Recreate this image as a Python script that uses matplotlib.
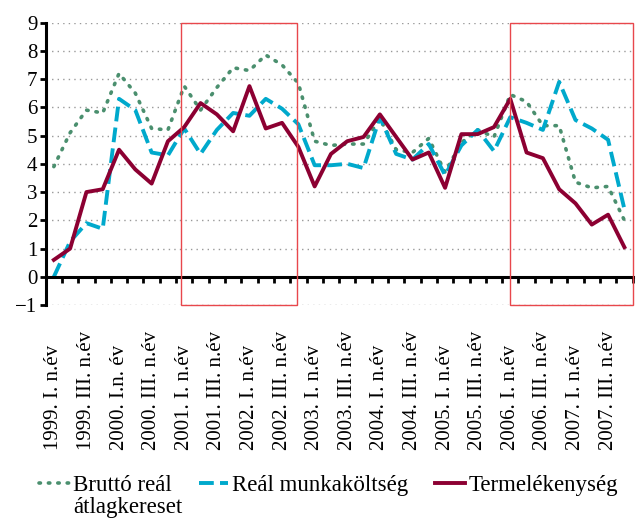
import numpy as np
import matplotlib
matplotlib.use('Agg')
import matplotlib.pyplot as plt
from matplotlib.patches import Rectangle

plt.rcParams['font.family'] = ['Liberation Serif', 'DejaVu Serif']

labels = ['1999. I. n.év', '1999. III. n.év', '2000. I.n. év', '2000. III. n.év',
          '2001. I. n.év', '2001. III. n.év', '2002. I. n.év', '2002. III. n.év',
          '2003. I. n.év', '2003. III. n.év', '2004. I. n.év', '2004. III. n.év',
          '2005. I. n.év', '2005. III. n.év', '2006. I. n.év', '2006. III. n.év',
          '2007. I. n.év', '2007. III. n.év']

brutto = [3.9, 5.1, 5.9, 5.8, 7.2, 6.5, 5.25, 5.2, 6.75, 5.9, 6.7, 7.4,
          7.3, 7.85, 7.5, 6.85, 4.8, 4.65, 4.7, 4.7, 5.6, 4.5, 4.4, 4.9,
          3.7, 4.75, 5.2, 4.95, 6.45, 6.2, 5.35, 5.35, 3.35, 3.15, 3.2, 2.0]
munkakoltseg = [0.0, 1.25, 1.9, 1.7, 6.3, 5.9, 4.4, 4.3, 5.25, 4.35, 5.2, 5.8,
                5.7, 6.3, 5.95, 5.4, 3.95, 3.95, 4.0, 3.85, 5.65, 4.35, 4.15, 4.7,
                3.6, 4.65, 5.2, 4.45, 5.65, 5.45, 5.2, 6.9, 5.55, 5.25, 4.85, 2.4]
termelekenyseg = [0.6, 1.0, 3.0, 3.1, 4.5, 3.8, 3.3, 4.8, 5.3, 6.15, 5.75, 5.15,
                  6.75, 5.25, 5.45, 4.6, 3.2, 4.35, 4.8, 4.95, 5.75, 4.95, 4.15, 4.4,
                  3.15, 5.05, 5.05, 5.3, 6.3, 4.4, 4.2, 3.1, 2.6, 1.85, 2.2, 1.05]

# highlighted periods (in category units)
boxes = [(7.83, 14.93), (27.98, 35.5)]

x = np.arange(len(brutto))

fig = plt.figure(figsize=(6.37, 5.18), dpi=100)
ax = fig.add_axes([0.0717, 0.411, 0.9213, 0.5455])

ax.plot(x, brutto, color='#4a8f6e', lw=2.6, linestyle=(0, (0.4, 2.2)),
        dash_capstyle='round', label='Bruttó reál')
ax.plot(x, munkakoltseg, color='#00a9cc', lw=2.8, linestyle=(0, (3.8, 1.6)),
        label='Reál munkaköltség')
ax.plot(x, termelekenyseg, color='#8c0032', lw=2.8, label='Termelékenység')

for x0, x1 in boxes:
    ax.add_patch(Rectangle((x0, -1), x1 - x0, 10, fill=False,
                           edgecolor='#e8474c', lw=1.0, clip_on=False, zorder=5))

ax.set_xlim(-0.5, 35.5)
ax.set_ylim(-1, 9)
ax.set_yticks(range(-1, 10))
ax.yaxis.grid(True, color='#999999', linestyle=(0, (1, 3)), lw=1.0)
ax.tick_params(axis='y', labelsize=15, length=4, width=2, pad=2)

for s in ['top', 'right']:
    ax.spines[s].set_visible(False)
ax.spines['left'].set_linewidth(2.2)
ax.spines['bottom'].set_position(('data', 0))
ax.spines['bottom'].set_linewidth(2.2)

ax.set_xticks(np.arange(0, 36, 2))
ax.set_xticklabels(labels, rotation=90, fontsize=15, va='bottom')
ax.set_xticks(np.arange(-0.5, 36, 1), minor=True)
ax.tick_params(axis='x', which='major', length=0, pad=125)
ax.tick_params(axis='x', which='minor', length=4, width=2, direction='out')

leg = fig.legend(loc='upper left', bbox_to_anchor=(0.062, 0.084), ncol=3, frameon=False,
                 fontsize=16.5, handlelength=1.3, handletextpad=0.18, columnspacing=1.15,
                 borderaxespad=0, borderpad=0)

# second line of the first legend label sits under the first line
fig.canvas.draw()
bb = leg.get_texts()[0].get_window_extent()
W, H = fig.canvas.get_width_height()
fig.text(bb.x0 / W, (bb.y0 + 5 - 22) / H, 'átlagkereset', fontsize=16.5, va='baseline')

fig.savefig('out.png', dpi=100)
